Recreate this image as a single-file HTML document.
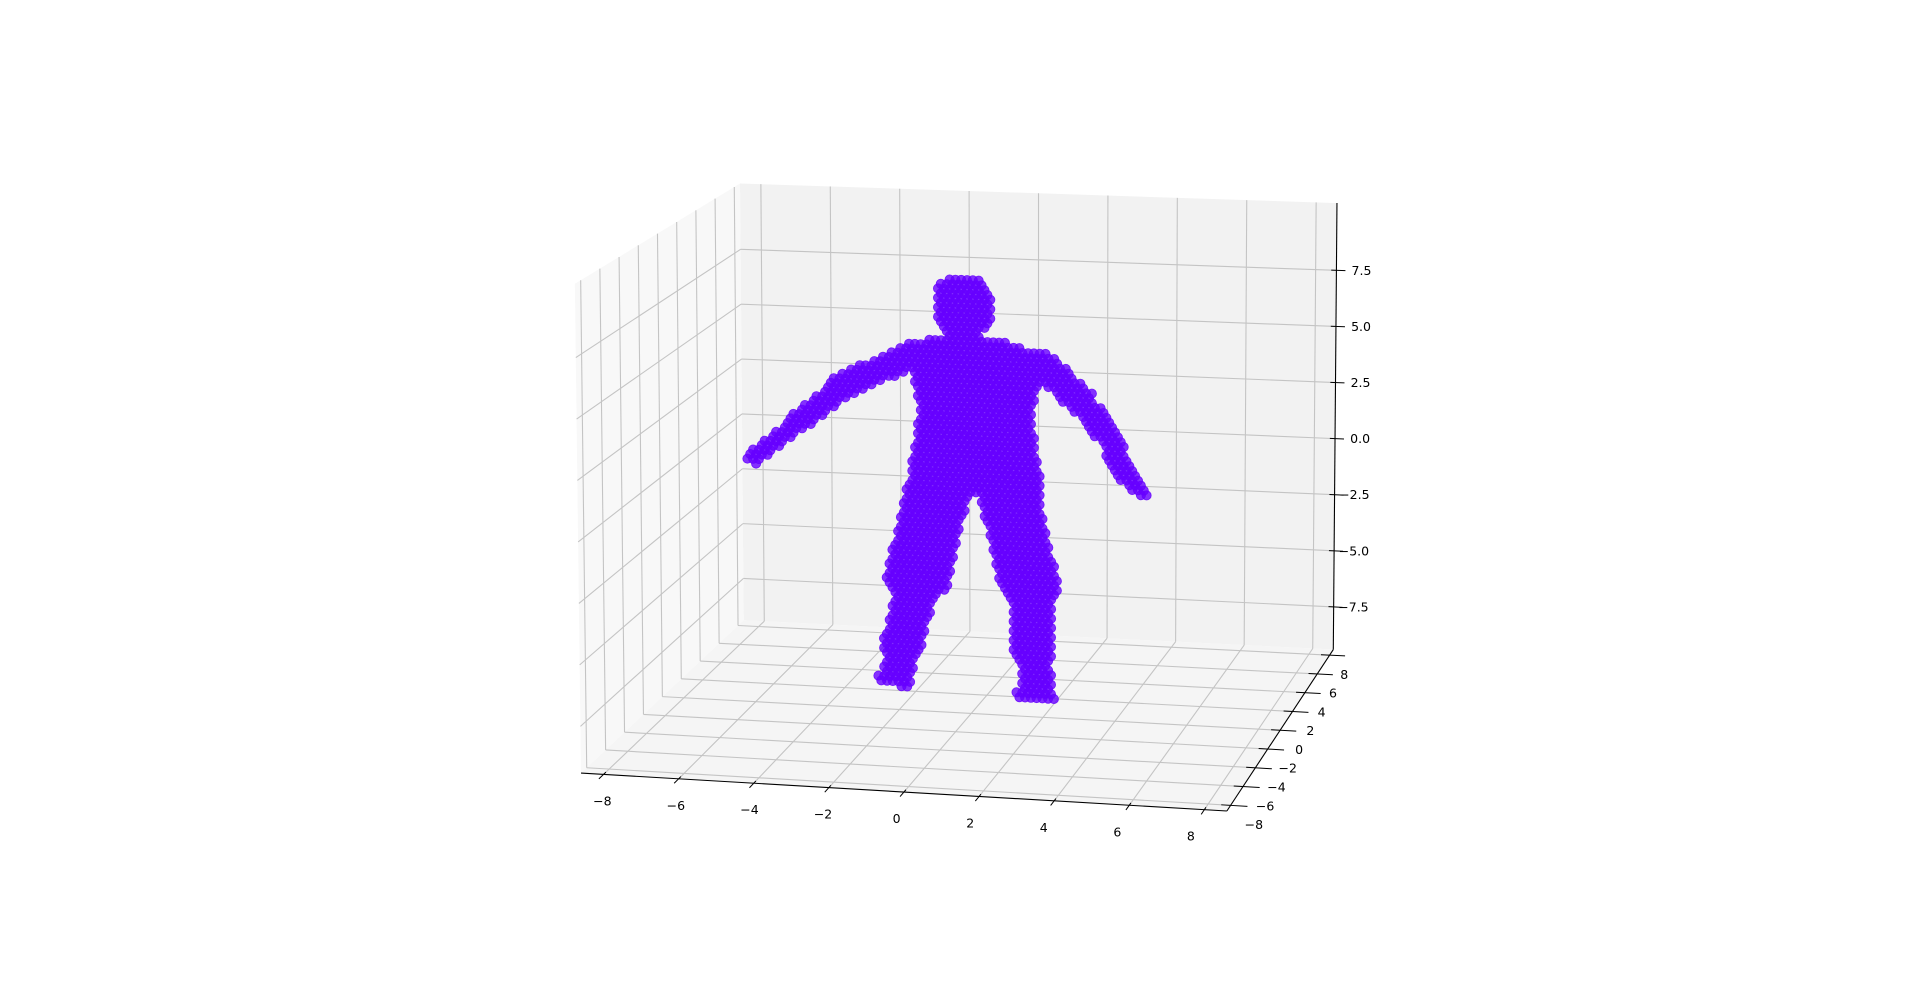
<!DOCTYPE html>
<html><head><meta charset="utf-8"><style>
html,body{margin:0;padding:0;background:#fff;}
svg{display:block;font-family:"DejaVu Sans","Liberation Sans",sans-serif;}
</style></head><body>
<svg id="chart" width="1918" height="984" viewBox="0 0 1918 984">
<g id="panes"></g>
<g id="grid"></g>
<g id="axes"></g>
<g id="points"></g>
</svg>
<script>
// axis ticks
const xTicks = [-8,-6,-4,-2,0,2,4,6,8];
const yTicks = [-8,-6,-4,-2,0,2,4,6,8];
const zTicks = [-7.5,-5,-2.5,0,2.5,5,7.5];
const zTickLabels = ["−7.5","−5.0","−2.5","0.0","2.5","5.0","7.5"];
// body segments (data coords, y=0 plane)
const segX1 = [-0.2,-0.15,-1.66,-3.52,-4.71,1.83,2.91,3.76,4.27,-0.95,-1.49,-1.90,-2.44,1.05,1.66,1.73,1.39];
const segZ1 = [7.36,6.31,5.72,4.27,2.71,5.72,4.27,2.71,1.05,-0.15,-3.79,-6.64,-8.11,-0.15,-4.05,-6.64,-8.47];
const segX2 = [-0.2,-0.15,-3.52,-4.71,-5.99,2.91,3.76,4.27,4.77,-1.49,-1.90,-2.07,-1.76,1.66,1.73,1.83,2.17];
const segZ2 = [8.41,7.01,4.27,2.71,1.05,4.27,2.71,1.05,0.21,-3.79,-6.64,-7.94,-8.21,-4.05,-6.64,-7.94,-8.47];
const segR  = [0.75,0.45,0.46,0.34,0.26,0.46,0.38,0.30,0.18,0.86,0.55,0.44,0.22,0.8,0.55,0.44,0.22];
// torso outline (data coords)
const torsoX = [-1.76,-0.81,0.54,2.07,1.90,1.66,1.83,1.96,1.96,0.20,-0.13,-1.76,-1.66,-1.42,-1.56];
const torsoZ = [6.19,6.55,6.55,5.98,4.79,3.22,1.66,0.10,-0.93,-0.15,-0.15,-0.93,1.15,3.22,4.79];

const R = 8.6, ZMIN = -9.4, ZMAX = 10.5, S = 1918/1568;
const C = {c000:[475,632],c100:[1003,663],c010:[608,507],c110:[1090,531],
           c001:[470,232],c101:[1006,253],c011:[605,150],c111:[1093,166]};
function proj(x,y,z){
  const u=(x+R)/(2*R), v=(y+R)/(2*R), w=(z-ZMIN)/(ZMAX-ZMIN);
  const r=[0,0];
  for(let k=0;k<2;k++){
    const a=C.c000[k]*(1-u)+C.c100[k]*u, b=C.c010[k]*(1-u)+C.c110[k]*u;
    const c=C.c001[k]*(1-u)+C.c101[k]*u, d=C.c011[k]*(1-u)+C.c111[k]*u;
    const bot=a*(1-v)+b*v, top=c*(1-v)+d*v;
    r[k]=(bot*(1-w)+top*w)*S;
  }
  return r;
}
const NS="http://www.w3.org/2000/svg";
function mk(tag,attrs,parent){const e=document.createElementNS(NS,tag);for(const k in attrs)e.setAttribute(k,attrs[k]);parent.appendChild(e);return e;}
function poly(pts){return pts.map(p=>proj(...p).map(v=>v.toFixed(1)).join(',')).join(' ');}
function line(p1,p2,stroke,w,parent,name){
  const a=proj(...p1),b=proj(...p2);
  const l=mk('line',{x1:a[0],y1:a[1],x2:b[0],y2:b[1],stroke:stroke,'stroke-width':w},parent);
  
  
  return l;
}
const panes=document.getElementById('panes');
let p=mk('polygon',{points:poly([[-R,R,ZMIN],[R,R,ZMIN],[R,R,ZMAX],[-R,R,ZMAX]]),fill:'#f2f2f2'},panes);


p=mk('polygon',{points:poly([[-R,-R,ZMIN],[-R,R,ZMIN],[-R,R,ZMAX],[-R,-R,ZMAX]]),fill:'#f8f8f8'},panes);


p=mk('polygon',{points:poly([[-R,-R,ZMIN],[R,-R,ZMIN],[R,R,ZMIN],[-R,R,ZMIN]]),fill:'#f5f5f5'},panes);



const grid=document.getElementById('grid'), gc='#c4c4c4';
xTicks.forEach(x=>{line([x,R,ZMIN],[x,R,ZMAX],gc,1.1,grid,'gridline-back-x');line([x,-R,ZMIN],[x,R,ZMIN],gc,1.1,grid,'gridline-floor-x');});
yTicks.forEach(y=>{line([-R,y,ZMIN],[-R,y,ZMAX],gc,1.1,grid,'gridline-left-y');line([-R,y,ZMIN],[R,y,ZMIN],gc,1.1,grid,'gridline-floor-y');});
zTicks.forEach(z=>{line([-R,R,z],[R,R,z],gc,1.1,grid,'gridline-back-z');line([-R,-R,z],[-R,R,z],gc,1.1,grid,'gridline-left-z');});

const axes=document.getElementById('axes');
line([-R,-R,ZMIN],[R,-R,ZMIN],'#000',1.1,axes,'x-axis-line');
line([R,-R,ZMIN],[R,R,ZMIN],'#000',1.1,axes,'y-axis-line');
line([R,R,ZMIN],[R,R,ZMAX],'#000',1.1,axes,'z-axis-line');
function txt(x,y,s,anchor,name){
  const t=mk('text',{x:x,y:y,'font-size':12.5,'text-anchor':anchor,'dominant-baseline':'middle',fill:'#000'},axes);
  t.textContent=s;
  
  
}
function lab(v){return v<0?'−'+Math.abs(v):String(v);}
xTicks.forEach((x,i)=>{
  line([x,-R+0.25,ZMIN],[x,-R-0.5,ZMIN],'#000',1,axes,'x-tick');
  const a=proj(x,-R,ZMIN), f=i/(xTicks.length-1);
  txt(a[0]+(-1-10*f)*S,a[1]+22.5*S,lab(x),'middle','x-tick-label');
});
yTicks.forEach((y,i)=>{
  line([R-0.25,y,ZMIN],[R+0.45,y,ZMIN],'#000',1,axes,'y-tick');
  const a=proj(R,y,ZMIN), f=i/(yTicks.length-1);
  txt(a[0]+(19-7*f)*S,a[1]+16.5*S,lab(y),'middle','y-tick-label');
});
zTicks.forEach((z,i)=>{
  line([R-0.15,R,z],[R+0.26,R,z],'#000',1,axes,'z-tick');
  const a=proj(R,R,z);
  txt(a[0]+35,a[1]+1,zTickLabels[i],'end','z-tick-label');
});

// point cloud
const pts=document.getElementById('points');
const sx=0.16, sz=0.2;
function inPoly(x,z){let c=false;for(let i=0,j=torsoX.length-1;i<torsoX.length;j=i++){
  if(((torsoZ[i]>z)!=(torsoZ[j]>z))&&(x<(torsoX[j]-torsoX[i])*(z-torsoZ[i])/(torsoZ[j]-torsoZ[i])+torsoX[i]))c=!c;}return c;}
function inSeg(x,z){for(let i=0;i<segR.length;i++){
  const ax=segX1[i],az=segZ1[i],bx=segX2[i],bz=segZ2[i];
  const dx=bx-ax,dz=bz-az,L=dx*dx+dz*dz;
  let t=L>0?((x-ax)*dx+(z-az)*dz)/L:0;t=Math.max(0,Math.min(1,t));
  const px=ax+t*dx-x,pz=az+t*dz-z;
  if(px*px+pz*pz<=segR[i]*segR[i])return true;}return false;}
let row=0;
for(let z=-9;z<=9.5;z+=sz,row++){
  for(let x=-6.5+(row%2)*sx/2;x<=5.2;x+=sx){
    if(inPoly(x,z)||inSeg(x,z)){
      const a=proj(x,0,z);
      const c=mk('circle',{cx:a[0].toFixed(1),cy:a[1].toFixed(1),r:4.6,fill:'rgba(102,0,255,0.8)',stroke:'rgba(102,0,255,0.85)','stroke-width':0.8},pts);
      
      
    }
  }
}
</script>
</body></html>
